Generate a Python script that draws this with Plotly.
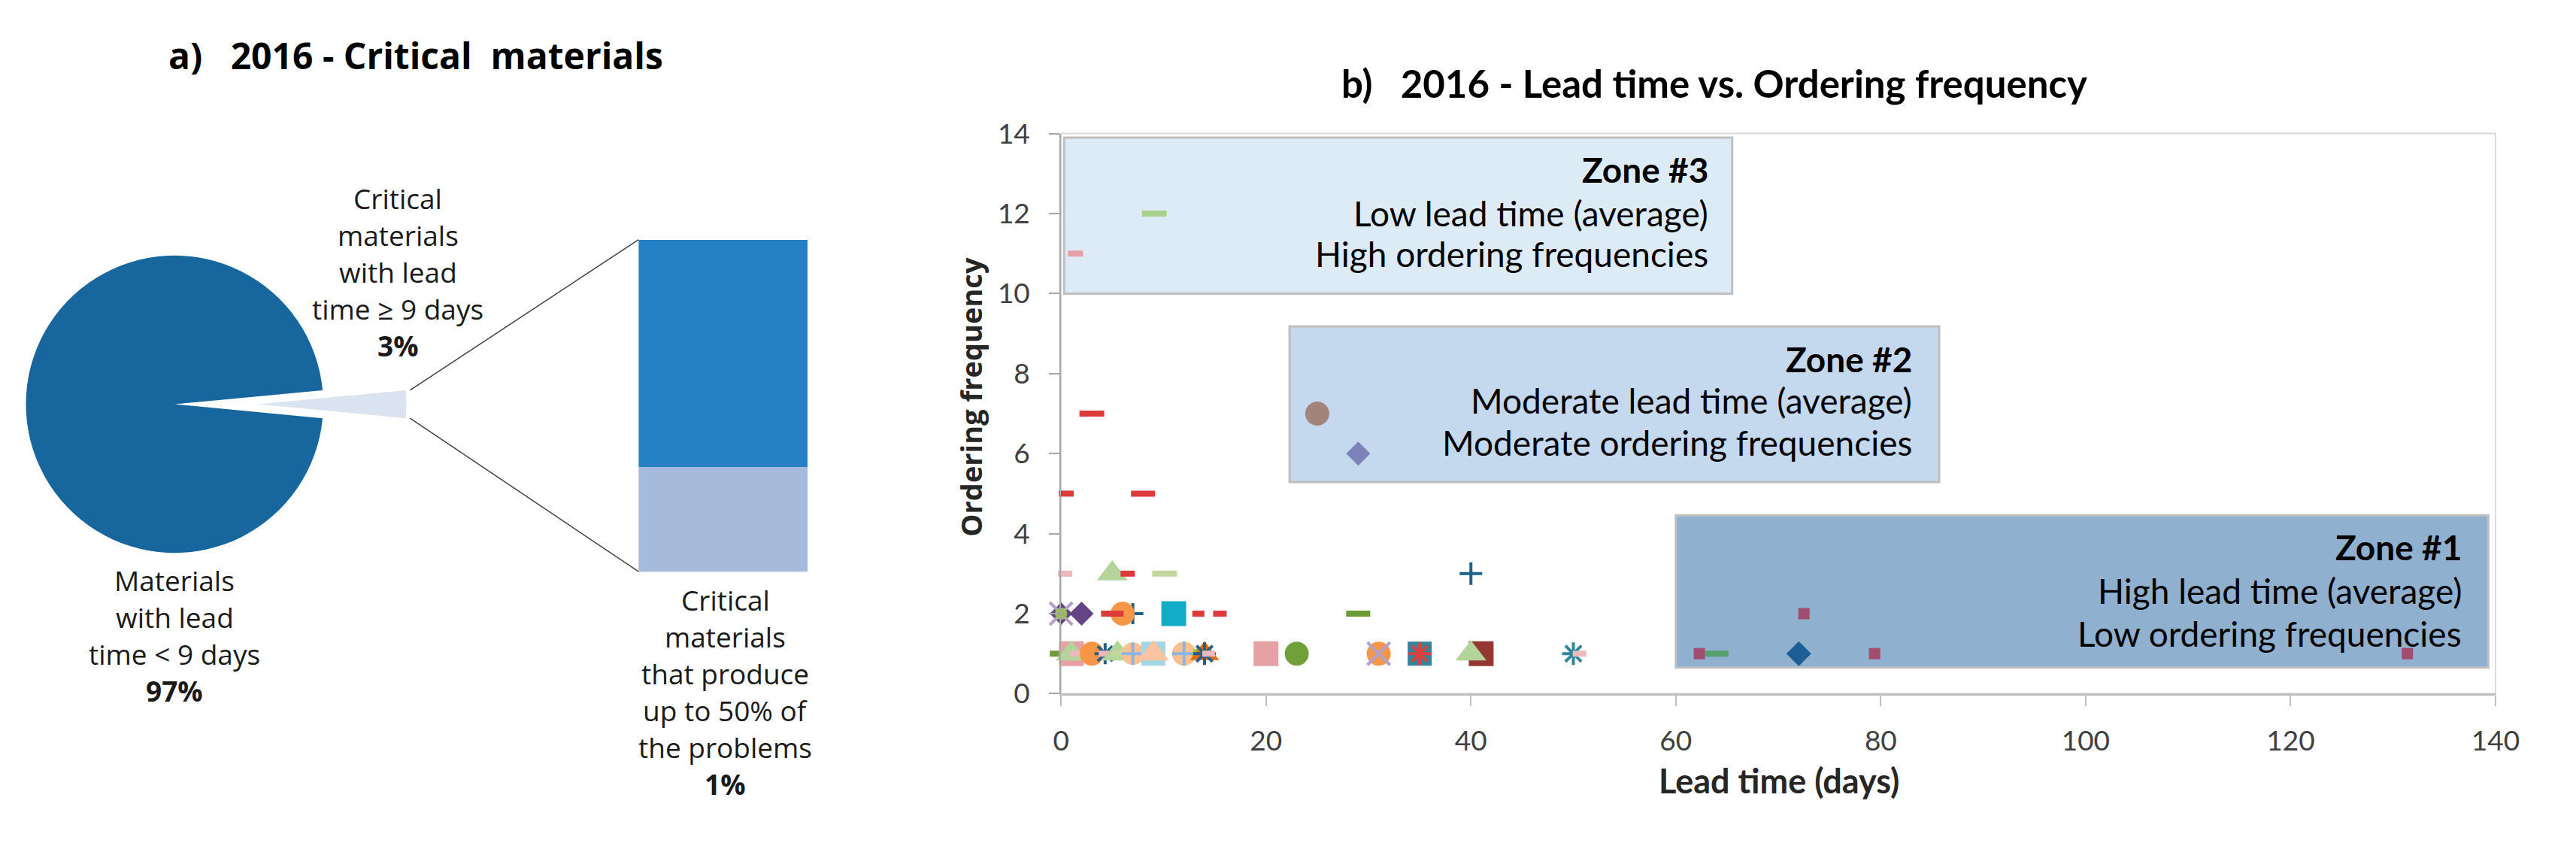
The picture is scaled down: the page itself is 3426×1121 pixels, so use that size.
import math
import plotly.graph_objects as go

W, H = 3426, 1121

def px(x):
    return x / W

def py(y):
    return 1 - y / H

# ---------------- data ----------------
pie_labels = ["Critical materials with lead time ≥ 9 days", "Materials with lead time < 9 days"]
pie_values = [3, 97]
bar_labels = ["Critical materials that produce up to 50% of the problems", "Other critical materials"]
bar_values = [0.95, 2.05]

lead_time = [0, 1, 1, 1.5, 3, 4.3, 4.3, 5.5, 6, 7, 7, 9, 9, 12, 12, 13.3, 14, 14, 14.4, 20, 23,
             31, 31, 35, 35, 41, 40, 50, 50.6, 62.3, 64, 72, 79.4, 131.4,
             0, 0, 0, 2, 7, 6, 5, 11, 11, 13.4, 15.5, 29, 72.5,
             0.4, 5, 6.5, 10.1, 40,
             0.5, 8, 3, 25, 29, 1.4, 9.1]
order_freq = [1] * 34 + [2] * 13 + [3] * 5 + [5, 5, 7, 7, 6, 11, 12]

# ---------------- styles ----------------
marker_shape = ["dash", "square", "triangle", "dash", "circle", "asterisk", "dash", "triangle", "dash",
                "circle", "cross", "square", "triangle", "circle", "cross", "circle", "triangle", "asterisk",
                "dash", "square", "circle", "circle", "x", "square", "asterisk", "square", "triangle",
                "asterisk", "dash", "square", "dash", "diamond", "square", "square",
                "diamond", "x", "circle", "diamond", "cross", "circle", "dash", "cross", "square",
                "dash", "dash", "dash", "square",
                "dash", "triangle", "dash", "dash", "cross",
                "dash", "dash", "dash", "circle", "diamond", "dash", "dash"]
marker_color = ["#6E9A3A", "#E6A1A4", "#B3D49A", "#EDB9BA", "#F79646", "#1F618D", "#EDB9BA", "#B3D49A",
                "#C3D69B", "#FAC090", "#8DB4E2", "#A5D5E2", "#FBC3A0", "#FAC090", "#8DB4E2", "#9BBB59",
                "#E46C0A", "#1F618D", "#EDB9BA", "#E6A1A4", "#71A03B", "#F79646", "#B2A1C7", "#31859C",
                "#D9403F", "#953735", "#B3D49A", "#31859C", "#EDB9BA", "#A14D6E", "#55A06E", "#1D5F94",
                "#A14D6E", "#A14D6E",
                "#604A7B", "#B2A1C7", "#9BBB59", "#634587", "#1F618D", "#F79646", "#DD3B3B", "#1F618D",
                "#12ACC8", "#DD3B3B", "#DD3B3B", "#6C9A35", "#A14D6E",
                "#EDB9BA", "#B3D49A", "#DD3B3B", "#C3D69B", "#1F618D",
                "#DD3B3B", "#DD3B3B", "#DD3B3B", "#A3847A", "#7D82B8", "#E6A0A6", "#A8D08D"]
marker_px = [30, 33, 34, 18, 32, 28, 17, 34, 30, 30, 30, 32, 34, 32, 32, 14, 32, 30, 17, 33, 32,
             32, 30, 32, 30, 33, 34, 30, 18, 15, 31, 33, 15, 15,
             30, 30, 16, 32, 28, 32, 30, 30, 33, 16, 18, 32, 15,
             19, 34, 19, 33, 30,
             20, 32, 33, 32, 32, 20, 33]

PIE_FONT = "Open Sans, Noto Sans, sans-serif"
NARROW = "Lato, Roboto, sans-serif"

fig = go.Figure()

# ---------------- pie of bar ----------------
cx, cy, r = 224, 535, 206
pull_px = 112
half = pie_values[0] / sum(pie_values) * 180.0
rot = 90 - half

fig.add_trace(go.Pie(
    labels=pie_labels, values=pie_values, sort=False, direction="clockwise", rotation=rot,
    marker=dict(colors=["rgba(0,0,0,0)", "#18669E"], line=dict(width=0)),
    textinfo="none", hoverinfo="label+percent", showlegend=False,
    domain=dict(x=[px(cx - r), px(cx + r)], y=[py(cy + r), py(cy - r)])))
fig.add_trace(go.Pie(
    labels=pie_labels, values=pie_values, sort=False, direction="clockwise", rotation=rot,
    marker=dict(colors=["#DAE3F0", "rgba(0,0,0,0)"], line=dict(width=0)),
    textinfo="none", hoverinfo="label+percent", showlegend=False,
    domain=dict(x=[px(cx + pull_px - r), px(cx + pull_px + r)], y=[py(cy + r), py(cy - r)])))

bar_x0, bar_x1, bar_top, bar_bot = 849, 1077, 307, 767
fig.add_trace(go.Bar(x=["crit"], y=[bar_values[0]], marker=dict(color="#A6BBDB", line=dict(width=0)),
                     name=bar_labels[0], xaxis="x2", yaxis="y2", showlegend=False))
fig.add_trace(go.Bar(x=["crit"], y=[bar_values[1]], marker=dict(color="#2581C4", line=dict(width=0)),
                     name=bar_labels[1], xaxis="x2", yaxis="y2", showlegend=False))

# connector lines from exploded slice to bar
sx = cx + pull_px + r * math.cos(math.radians(half))
sdy = r * math.sin(math.radians(half))
for (y0, y1) in [(cy - sdy, bar_top), (cy + sdy, bar_bot)]:
    fig.add_shape(type="line", xref="paper", yref="paper", x0=px(sx), y0=py(y0), x1=px(bar_x0), y1=py(y1),
                  line=dict(color="#404040", width=1.5))

# ---------------- scatter ----------------
def symbol_spec(kind, v, color):
    if kind == "square":
        return dict(symbol="square", size=v, color=color, line=dict(width=0))
    if kind == "circle":
        return dict(symbol="circle", size=v, color=color, line=dict(width=0))
    if kind == "diamond":
        return dict(symbol="diamond", size=v / 1.3, color=color, line=dict(width=0))
    if kind == "triangle":
        return dict(symbol="triangle-up", size=v * 1.05, color=color, line=dict(width=0))
    if kind == "cross":
        return dict(symbol="cross-thin", size=v / 1.4, color=color, line=dict(width=4, color=color))
    if kind == "x":
        return dict(symbol="x-thin", size=v, color=color, line=dict(width=4, color=color))
    if kind == "asterisk":
        return dict(symbol="asterisk", size=v / 1.2, color=color, line=dict(width=4, color=color))
    return dict(symbol="line-ew", size=v / 1.4, color=color, line=dict(width=8, color=color))

for i in range(len(lead_time)):
    fig.add_trace(go.Scatter(x=[lead_time[i]], y=[order_freq[i]], mode="markers",
                             marker=symbol_spec(marker_shape[i], marker_px[i], marker_color[i]),
                             showlegend=False, cliponaxis=False,
                             hovertemplate="Lead time %{x}<br>Ordering frequency %{y}<extra></extra>"))

# zone boxes
zone_boxes = [(0.3, 65.5, 10.0, 13.9, "#DDEBF7"), (22.3, 85.7, 5.29, 9.18, "#C5D9EE"),
              (60.0, 139.3, 0.65, 4.46, "#8FB0CE")]
for (x0, x1, y0, y1, col) in zone_boxes:
    fig.add_shape(type="rect", xref="x", yref="y", x0=x0, x1=x1, y0=y0, y1=y1, layer="below",
                  fillcolor=col, line=dict(color="#BFBFBF", width=3))

# plot frame (top / right)
fig.add_shape(type="rect", xref="x domain", yref="y domain", x0=0, x1=1, y0=0, y1=1, layer="below",
              line=dict(color="#D9D9D9", width=2))

zone_text = [
    (2292, [210, 270, 327], ["<b>Zone #3</b>", "Low lead time (average)", "High ordering frequencies"]),
    (2566, [472, 530, 588], ["<b>Zone #2</b>", "Moderate lead time (average)", "Moderate ordering frequencies"]),
    (3307, [733, 793, 853], ["<b>Zone #1</b>", "High lead time (average)", "Low ordering frequencies"]),
]
ann = []
for (xr, ys, lines) in zone_text:
    for yy, t in zip(ys, lines):
        ann.append(dict(x=px(xr), y=py(yy), xref="paper", yref="paper", text=t, showarrow=False,
                        xanchor="right", yanchor="middle", font=dict(family=NARROW, size=46, color="#000000")))

# pie labels
pie_text = [
    (525, 250, ["Critical", "materials", "with lead", "time ≥ 9 days", "<b>3%</b>"]),
    (224, 779, ["Materials", "with lead", "time < 9 days", "<b>97%</b>"]),
    (966, 806, ["Critical", "materials", "that produce", "up to 50% of", "the problems", "<b>1%</b>"]),
]
for (xc, y0, lines) in pie_text:
    for k, t in enumerate(lines):
        ann.append(dict(x=px(xc), y=py(y0 + 51 * k), xref="paper", yref="paper", text=t, showarrow=False,
                        xanchor="center", yanchor="middle", font=dict(family=PIE_FONT, size=37, color="#1A1A1A")))

# titles
ann.append(dict(x=px(549), y=py(52), xref="paper", yref="paper",
                text="<b>a)\u00a0\u00a0\u00a02016 - Critical\u00a0 materials</b>", showarrow=False,
                xanchor="center", yanchor="middle", font=dict(family=PIE_FONT, size=48, color="#000000")))
ann.append(dict(x=px(2298), y=py(90), xref="paper", yref="paper",
                text="<b>b)\u00a0\u00a0\u00a02016 - Lead time vs. Ordering frequency</b>", showarrow=False,
                xanchor="center", yanchor="middle", font=dict(family=NARROW, size=51, color="#000000")))
# axis titles
ann.append(dict(x=px(2385), y=py(1056), xref="paper", yref="paper", text="<b>Lead time (days)</b>",
                showarrow=False, xanchor="center", yanchor="middle",
                font=dict(family=NARROW, size=45, color="#262626")))
ann.append(dict(x=px(1296), y=py(525), xref="paper", yref="paper", text="<b>Ordering frequency</b>",
                showarrow=False, xanchor="center", yanchor="middle", textangle=-90,
                font=dict(family=PIE_FONT, size=38, color="#262626")))

fig.update_layout(
    width=W, height=H, margin=dict(l=0, r=0, t=0, b=0),
    paper_bgcolor="white", plot_bgcolor="white", barmode="stack", bargap=0,
    showlegend=False, annotations=ann,
    xaxis=dict(domain=[px(1418), px(3350)], range=[0, 140], dtick=20, showgrid=False, zeroline=False,
               showline=True, linecolor="#BFBFBF", linewidth=3, ticks="outside", ticklen=14,
               tickcolor="#BFBFBF", tickwidth=2, ticklabelstandoff=14,
               tickfont=dict(family=NARROW, size=37, color="#404040")),
    yaxis=dict(domain=[py(936), py(160)], range=[0, 14], dtick=2, showgrid=False, zeroline=False,
               showline=True, linecolor="#A6A6A6", linewidth=2, ticks="outside", ticklen=14,
               tickcolor="#A6A6A6", tickwidth=2, ticklabelstandoff=18,
               tickfont=dict(family=NARROW, size=37, color="#404040")),
    xaxis2=dict(domain=[px(bar_x0), px(bar_x1)], range=[-0.5, 0.5], type="category", visible=False,
                anchor="y2"),
    yaxis2=dict(domain=[py(bar_bot), py(bar_top)], range=[0, sum(bar_values)], visible=False, anchor="x2"),
)

fig.write_html("out.html", config={"displayModeBar": False},
               post_script="document.body.style.margin='0px';")
